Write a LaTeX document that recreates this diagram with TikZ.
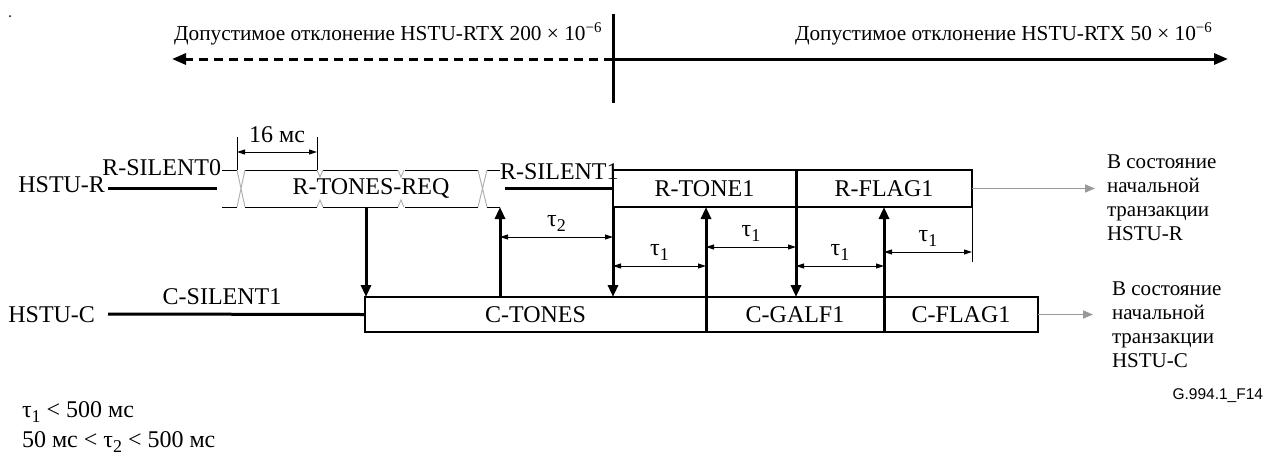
\documentclass[tikz,border=0pt]{standalone}
\usepackage{fontspec}
\setmainfont{Liberation Serif}
\newfontfamily\figsans{Liberation Sans}
\usetikzlibrary{arrows.meta,positioning}
\newcommand{\tsub}[1]{τ\raisebox{-5pt}{\fontsize{18}{18}\selectfont #1}}

\begin{document}
\begin{tikzpicture}[x=1pt,y=-1pt,font=\fontsize{24}{28}\selectfont,
  every node/.style={inner sep=0pt,outer sep=0pt},
  sig/.style={line width=3pt},
  box/.style={draw,line width=1.5pt,anchor=north west},
  evt/.style={line width=3pt,-{Triangle[length=12pt,width=10pt]}},
  dim/.style={line width=1pt,{Triangle[length=8pt,width=5pt]}-{Triangle[length=8pt,width=5pt]}},
  tick/.style={line width=1pt},
  cross/.style={black!30,line width=1pt},
  exit/.style={black!40,line width=1.5pt,-{Triangle[length=10pt,width=8pt]}},
  tau/.style={anchor=base,yshift=11pt},
  tol/.style={font=\fontsize{21.3}{26}\selectfont},
  note/.style={align=left,anchor=north west,font=\fontsize{21}{24}\selectfont}]
\useasboundingbox (0,0) rectangle (1265,459);
\fill (10,16) circle (1pt);

\coordinate (mid) at (613,59);
\draw[line width=3pt] (613,14) -- (613,103);
\draw[line width=3pt,dash pattern=on 9pt off 6pt,-{Triangle[length=14pt,width=11pt]}] (mid) -- (172,59);
\draw[line width=3pt,-{Triangle[length=14pt,width=11pt]}] (mid) -- (1228,59);
\node[tol,anchor=base east] (tolwide) at (602,40) {Допустимое отклонение HSTU-RTX 200 × 10\textsuperscript{−6}};
\node[tol,anchor=base west] (tolnarrow) at (795,40) {Допустимое отклонение HSTU-RTX 50 × 10\textsuperscript{−6}};

\node[anchor=base east] (hstur) at (105,192) {HSTU-R};
\draw[sig] (108,188) -- (217,188);
\node[anchor=base east] (rsil0) at (221,175) {R-SILENT0};
\node (rreq) at (371,188) {R-TONES-REQ};
\foreach \y in {170,207}{
  \draw[tick] (222,\y) -- (237,\y) (245,\y) -- (317,\y) (323,\y) -- (398,\y)
    (405,\y) -- (478,\y) (487,\y) -- (500,\y);
}
\draw[cross] (237,170) -- (245,207) (245,170) -- (237,207);
\draw[cross] (478,170) -- (487,207) (487,170) -- (478,207);
\foreach \x in {317,398}{
  \draw[cross] (\x,170) -- (\x+3,177) -- (\x+6,170);
  \draw[cross] (\x,207) -- (\x+3,200) -- (\x+6,207);
}
\node[anchor=base west] (rsil1) at (500,179) {R-SILENT1};
\draw[sig] (505,188) -- (613,188);

\coordinate (ms0) at (237,170);
\coordinate (ms1) at (317,170);
\draw[tick] (ms0) -- ++(0,-33);
\draw[tick] (ms1) -- ++(0,-33);
\draw[dim] ([yshift=18pt]ms0) -- node[anchor=base,yshift=10pt] {16 мс} ([yshift=18pt]ms1);

\node[box,minimum width=183pt,minimum height=37pt] (rtone) at (613,170) {R-TONE1};
\node[box,minimum width=176pt,minimum height=37pt] (rflag) at (rtone.north east) {R-FLAG1};
\node[note] (rnote) at (1107,155) {В состояние\\начальной\\транзакции\\HSTU-R};
\draw[exit,shorten >=12pt] (rflag.east) -- (rflag.east -| rnote.west);

\node[anchor=base east] (hstuc) at (95,322) {HSTU-C};
\node[anchor=base] (csil1) at (222,304) {C-SILENT1};
\node[box,minimum width=341pt,minimum height=35pt] (ctones) at (365,297) {C-TONES};
\node[box,minimum width=178pt,minimum height=35pt] (cgalf) at (ctones.north east) {C-GALF1};
\node[box,minimum width=154pt,minimum height=35pt] (cflag) at (cgalf.north east) {C-FLAG1};
\draw[sig] (108,314) -- (ctones.west);
\node[note] (cnote) at (1112,282) {В состояние\\начальной\\транзакции\\HSTU-C};
\draw[exit,shorten >=19pt] (cflag.east) -- (cflag.east -| cnote.west);

\coordinate (reqdn) at (366,207);
\coordinate (requp) at (500,207);
\draw[evt] (reqdn) -- (reqdn |- ctones.north);
\draw[evt] (requp |- ctones.north) -- (requp);
\draw[evt] (rtone.south west) -- (rtone.south west |- ctones.north);
\draw[evt] (ctones.south east) -- (ctones.south east |- rtone.south);
\draw[evt] (rtone.north east) -- (rtone.north east |- ctones.north);
\draw[evt] (cgalf.south east) -- (cgalf.south east |- rtone.south);

\coordinate (lvA) at (0,237);
\coordinate (lvB) at (0,266);
\coordinate (lvC) at (0,247);
\coordinate (lvD) at (0,252);
\draw[dim] (requp |- lvA) -- node[tau] {\tsub{2}} (rtone.west |- lvA);
\draw[dim] (rtone.west |- lvB) -- node[tau] {\tsub{1}} (ctones.east |- lvB);
\draw[dim] (ctones.east |- lvC) -- node[tau] {\tsub{1}} (rtone.east |- lvC);
\draw[dim] (rtone.east |- lvB) -- node[tau] {\tsub{1}} (cgalf.east |- lvB);
\draw[dim] (cgalf.east |- lvD) -- node[tau] {\tsub{1}} (rflag.east |- lvD);
\draw[tick] (rflag.south east) -- ++(0,55);

\node[anchor=base east,font=\figsans\fontsize{15.5}{18}\selectfont] (figid) at (1263,399) {G.994.1\_F14};
\node[anchor=base west] (cond1) at (22,417) {\tsub{1} < 500 мс};
\node[anchor=base west] (cond2) at (22,447) {50 мс < \tsub{2} < 500 мс};
\end{tikzpicture}
\end{document}
